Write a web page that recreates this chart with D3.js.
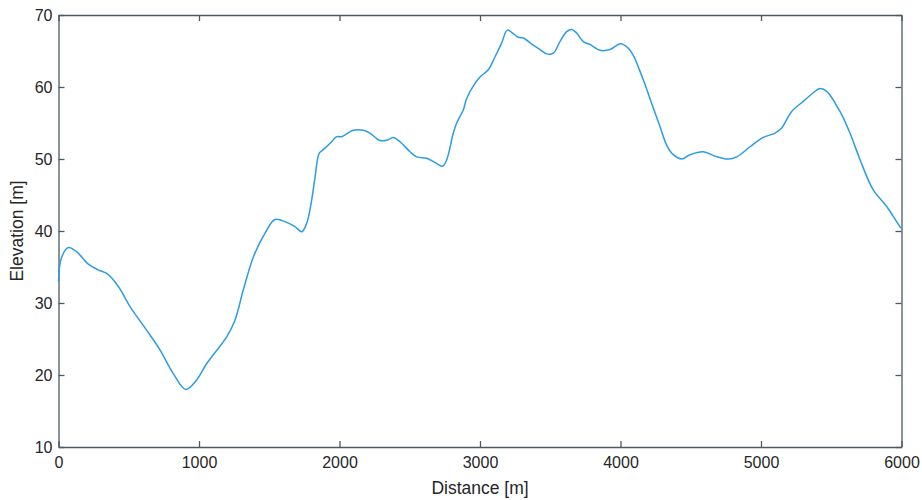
<!DOCTYPE html>
<html>
<head>
<meta charset="utf-8">
<script src="https://cdn.jsdelivr.net/npm/d3@7"></script>
<style>
  body { margin: 0; background: #fff; }
  text { font-family: "Liberation Sans", Arial, sans-serif; fill: #262626; }
</style>
</head>
<body>
<script>
// distance along the profile [m]
const distance = [0, 20, 70, 130, 212, 283, 343, 426, 509, 628, 722, 817, 905, 983, 1055, 1197, 1256,
  1315, 1387, 1470, 1541, 1624, 1683, 1731, 1767, 1802, 1826, 1856, 1885, 1944, 1980, 2016, 2098,
  2169, 2217, 2283, 2336, 2383, 2431, 2502, 2549, 2621, 2680, 2734, 2763, 2810, 2834, 2881, 2905,
  2964, 3000, 3059, 3107, 3154, 3194, 3237, 3273, 3308, 3379, 3427, 3475, 3522, 3569, 3617, 3653,
  3688, 3735, 3783, 3854, 3925, 4000, 4055, 4091, 4162, 4222, 4281, 4329, 4376, 4435, 4495, 4589,
  4673, 4767, 4827, 4922, 5016, 5100, 5147, 5218, 5301, 5372, 5420, 5468, 5562, 5633, 5705, 5799,
  5895, 5989, 6000];
// elevation [m]
const elevation = [33.0, 36.2, 37.7, 37.1, 35.4, 34.6, 34.1, 32.3, 29.5, 26.2, 23.5, 20.2, 18.0, 19.3, 21.6, 25.3, 27.6,
  31.8, 36.4, 39.7, 41.6, 41.2, 40.6, 39.9, 41.1, 44.3, 47.5, 50.8, 51.3, 52.4, 53.1, 53.1, 54.0,
  54.0, 53.6, 52.6, 52.6, 53.0, 52.4, 51.0, 50.3, 50.1, 49.5, 49.0, 49.9, 53.6, 55.0, 56.8, 58.4,
  60.5, 61.4, 62.4, 64.2, 66.1, 67.9, 67.4, 66.9, 66.8, 65.8, 65.2, 64.6, 64.7, 66.3, 67.7, 68.0,
  67.5, 66.3, 65.9, 65.1, 65.2, 66.0, 65.4, 64.4, 61.0, 57.7, 54.5, 51.9, 50.6, 50.0, 50.6, 51.0,
  50.4, 50.0, 50.3, 51.7, 53.0, 53.6, 54.3, 56.6, 58.0, 59.2, 59.8, 59.4, 56.6, 53.6, 49.9, 45.7,
  43.4, 40.6, 40.4];
const xTicks = [0, 1000, 2000, 3000, 4000, 5000, 6000];
const yTicks = [10, 20, 30, 40, 50, 60, 70];

const W = 922, H = 500;
const margin = {top: 15, right: 20.5, bottom: 53, left: 58.5};
const width = W - margin.left - margin.right,
      height = H - margin.top - margin.bottom;

const svg = d3.select("body").append("svg")
  .attr("width", W).attr("height", H);
const g = svg.append("g")
  .attr("transform", `translate(${margin.left},${margin.top})`);

const x = d3.scaleLinear().domain([0, 6000]).range([0, width]);
const y = d3.scaleLinear().domain([10, 70]).range([height, 0]);

const axisColor = "#4a5a62";
const fmt = d3.format("d");

// bottom + top axes (ticks inside)
const xb = g.append("g").attr("transform", `translate(0,${height})`)
  .call(d3.axisBottom(x).tickValues(xTicks).tickFormat(fmt).tickSizeInner(-6).tickSizeOuter(0).tickPadding(10));
const xt = g.append("g")
  .call(d3.axisTop(x).tickValues(xTicks).tickSizeInner(-6).tickSizeOuter(0).tickFormat(""));
const yl = g.append("g")
  .call(d3.axisLeft(y).tickValues(yTicks).tickFormat(fmt).tickSizeInner(-6).tickSizeOuter(0).tickPadding(6));
const yr = g.append("g").attr("transform", `translate(${width},0)`)
  .call(d3.axisRight(y).tickValues(yTicks).tickSizeInner(-6).tickSizeOuter(0).tickFormat(""));

[xb, xt, yl, yr].forEach(a => {
  a.selectAll("path, line").attr("stroke", axisColor).attr("stroke-width", 1.3);
  a.selectAll("text").attr("font-size", 16).attr("font-family", "Liberation Sans, Arial, sans-serif")
    .attr("fill", "#262626");
});
yl.selectAll("text").attr("dy", "0.35em");

// profile line
g.append("path")
  .datum(distance.map((d, i) => [d, elevation[i]]))
  .attr("fill", "none")
  .attr("stroke", "#2a9de3")
  .attr("stroke-width", 1.5)
  .attr("stroke-linejoin", "round")
  .attr("d", d3.line()
    .curve(d3.curveCatmullRom.alpha(0.5))
    .x(d => x(d[0]))
    .y(d => y(d[1])));

// axis labels
svg.append("text")
  .attr("x", margin.left + width / 2).attr("y", 494)
  .attr("text-anchor", "middle").attr("font-size", 17.5)
  .text("Distance [m]");
svg.append("text")
  .attr("transform", `translate(23,${margin.top + height / 2}) rotate(-90)`)
  .attr("text-anchor", "middle").attr("font-size", 17.5)
  .text("Elevation [m]");
</script>
</body>
</html>
